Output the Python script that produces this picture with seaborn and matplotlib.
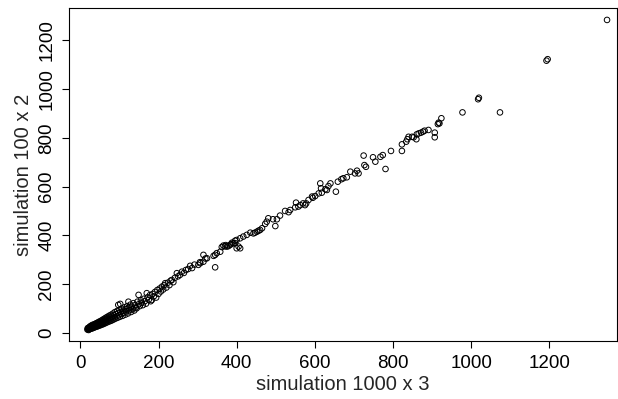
import pandas as pd
import numpy as np
import seaborn as sns
import matplotlib.pyplot as plt

# values (x = 1000 x 3, y = 100 x 2)
low_x = [18, 19, 20, 21, 22, 22, 23, 24, 25, 25, 26, 27, 28, 28, 29, 30, 31, 31, 32, 33,
         34, 35, 35, 36, 37, 38, 38, 39, 40, 41, 42, 43, 44, 45, 45, 46, 47, 48, 49, 50,
         51, 52, 53, 54, 55, 56, 57, 58, 59, 60, 61, 62, 63, 64, 65, 66, 67, 68, 69, 70,
         72, 73, 74, 75, 77, 78, 79, 80, 82, 83, 84, 86, 87, 88, 89, 91, 92, 94, 95, 97,
         97, 98, 100, 101, 102, 103, 105, 106, 108, 110, 111, 113, 115, 117, 118, 120, 122, 123, 124, 126,
         128, 130, 132, 134, 136, 138, 140, 142, 144, 146, 149, 150, 152, 155, 157, 160, 162, 165, 168, 170,
         172, 175, 178, 180, 183, 185, 188, 191, 194, 197, 200, 203, 206, 209, 212, 215, 217, 220, 224, 228,
         231, 234, 238, 242, 247, 250, 255, 260, 265, 270, 276, 281, 286, 292, 302, 306, 315, 320]
low_y = [14, 20, 16, 12, 22, 18, 15, 24, 19, 27, 17, 25, 21, 30, 18, 27, 23, 33, 20, 29,
         25, 35, 22, 31, 27, 37, 24, 33, 29, 40, 26, 36, 31, 43, 28, 38, 34, 46, 30, 41,
         36, 49, 33, 45, 39, 53, 35, 48, 42, 57, 38, 51, 45, 61, 41, 55, 48, 65, 44, 59,
         52, 70, 47, 63, 56, 74, 50, 67, 60, 79, 54, 72, 64, 85, 58, 77, 68, 90, 62, 115,
         82, 72, 95, 66, 119, 86, 78, 100, 70, 92, 83, 105, 75, 97, 88, 110, 80, 128, 102, 93,
         116, 86, 108, 98, 122, 92, 114, 104, 101, 128, 156, 118, 110, 134, 124, 114, 140, 130, 120, 163,
         146, 136, 155, 130, 135, 160, 150, 168, 145, 176, 160, 182, 170, 190, 178, 196, 204, 186, 206, 196,
         214, 217, 208, 226, 245, 232, 238, 251, 246, 258, 262, 275, 266, 280, 279, 290, 320, 305]

mid_x = [307, 315, 324, 341, 345, 345, 349, 358, 362, 366, 370, 372, 386, 388,
         375, 379, 383, 392, 396, 396, 400, 400, 405, 409, 409, 417, 426, 435, 443, 447, 452, 456, 460, 465,
         473, 477, 481, 493, 499, 503, 511, 524, 533, 537, 550, 552, 558, 563, 570, 575, 578, 584,
         593, 595, 601, 610, 614, 616, 618, 627, 631, 635, 640, 654, 659, 668, 673, 682, 691, 703,
         708, 712, 725, 727, 731, 749, 755, 768, 774, 781, 795, 823]
mid_y = [286, 292, 306, 316, 320, 269, 327, 333, 352, 358, 355, 360, 364, 370,
         354, 356, 361, 368, 378, 368, 381, 347, 354, 388, 347, 395, 402, 411, 408, 411, 415, 419, 422, 429,
         447, 456, 470, 466, 438, 466, 481, 500, 495, 504, 515, 534, 518, 524, 531, 524, 531, 545,
         559, 554, 561, 572, 613, 593, 575, 589, 586, 602, 613, 579, 620, 630, 634, 638, 661, 654,
         665, 654, 727, 688, 681, 720, 702, 722, 729, 672, 746, 746]

high_x = [823, 834, 837, 840, 849, 853, 860, 861, 866, 872, 877, 881, 891, 907, 907,
          915, 917, 919, 924, 978, 1018, 1020, 1074, 1193, 1196, 1348]
high_y = [773, 784, 794, 804, 804, 802, 794, 814, 818, 821, 825, 829, 832, 821, 802,
          856, 862, 859, 880, 904, 958, 964, 904, 1116, 1122, 1283]

df = pd.DataFrame({"x": low_x + mid_x + high_x, "y": low_y + mid_y + high_y})

sns.set_style("ticks")
plt.rcParams['font.family'] = ['Liberation Sans', 'DejaVu Sans']

fig = plt.figure(figsize=(6.18, 3.99), dpi=100)
ax = fig.add_axes([0.1117, 0.1454, 0.887, 0.8346])
sns.scatterplot(data=df, x="x", y="y", ax=ax, marker="o", s=16,
                facecolor="none", edgecolor="black", linewidth=0.7)

ax.set_xlim(-29, 1374)
ax.set_ylim(-33, 1332)
ax.set_xticks([0, 200, 400, 600, 800, 1000, 1200])
ax.set_yticks([0, 200, 400, 600, 800, 1000, 1200])
ax.tick_params(labelsize=13.5, length=5, width=0.8, pad=5, color="black", labelcolor="black")
for lab in ax.get_yticklabels():
    lab.set_rotation(90)
    lab.set_va("center")
for s in ax.spines.values():
    s.set_color("black")
    s.set_linewidth(0.8)
ax.set_xlabel("simulation 1000 x 3", fontsize=14.5, labelpad=2)
ax.set_ylabel("simulation 100 x 2", fontsize=14.5, labelpad=4)

fig.savefig("out.png", dpi=100)
